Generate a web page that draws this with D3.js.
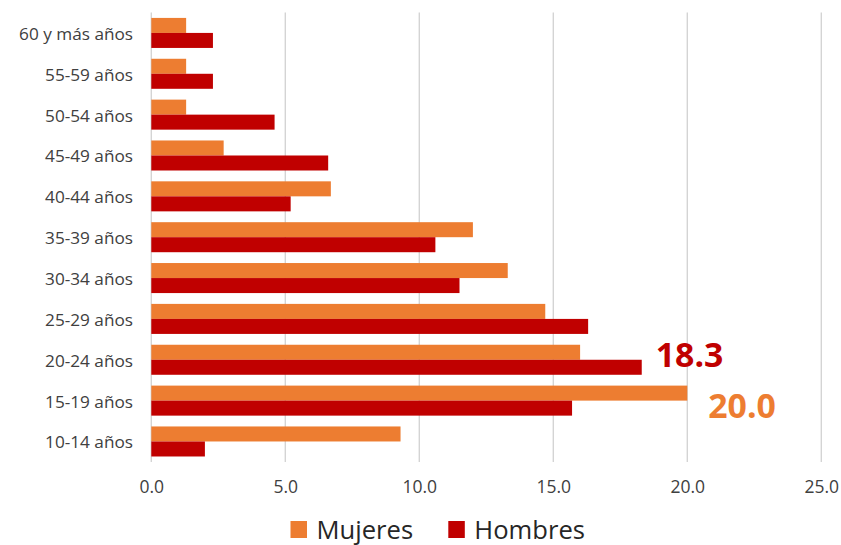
<!DOCTYPE html>
<html>
<head>
<meta charset="utf-8">
<script src="https://cdn.jsdelivr.net/npm/d3@7"></script>
<style>
  html, body { margin: 0; padding: 0; background: #fff; }
  svg { display: block; font-family: "Open Sans", "Noto Sans", sans-serif; }
</style>
</head>
<body>
<div id="chart"></div>
<script>
// Age groups, listed top to bottom
const categories = ["60 y más años", "55-59 años", "50-54 años", "45-49 años", "40-44 años",
  "35-39 años", "30-34 años", "25-29 años", "20-24 años", "15-19 años", "10-14 años"];
const series = ["Mujeres", "Hombres"];
const mujeres = [1.3, 1.3, 1.3, 2.7, 6.7, 12.0, 13.3, 14.7, 16.0, 20.0, 9.3];
const hombres = [2.3, 2.3, 4.6, 6.6, 5.2, 10.6, 11.5, 16.3, 18.3, 15.7, 2.0];
const xTicks = [0, 5, 10, 15, 20, 25];
// Highlighted values written beside their bars
const callouts = [
  { serie: "Hombres", cat: "20-24 años", value: 18.3 },
  { serie: "Mujeres", cat: "15-19 años", value: 20.0 }
];

const colors = { Mujeres: "#ED7D31", Hombres: "#C00000" };
const W = 841, H = 545;

const svg = d3.select("#chart").append("svg")
  .attr("width", W).attr("height", H);

const x = d3.scaleLinear().domain([0, 25]).range([151.3, 821.3]);
const y = d3.scaleBand().domain(categories).range([12.5, 461.9])
  .paddingInner(0.265).paddingOuter(0.1325);
const ySub = d3.scaleBand().domain(series).range([0, y.bandwidth()]);

const rows = categories.map((c, i) => ({ cat: c, Mujeres: mujeres[i], Hombres: hombres[i] }));

// Vertical gridlines
svg.append("g").selectAll("line").data(xTicks).join("line")
  .attr("x1", d => x(d)).attr("x2", d => x(d))
  .attr("y1", 12.5).attr("y2", 461.9)
  .attr("stroke", "#d4d4d4").attr("stroke-width", 1.4);

// Bars
const groups = svg.append("g").selectAll("g").data(rows).join("g")
  .attr("transform", d => `translate(0,${y(d.cat)})`);
groups.selectAll("rect").data(d => series.map(s => ({ s, v: d[s] }))).join("rect")
  .attr("x", x(0))
  .attr("y", d => ySub(d.s))
  .attr("width", d => x(d.v) - x(0))
  .attr("height", ySub.bandwidth())
  .attr("fill", d => colors[d.s]);

// Category labels
const yAxis = d3.axisLeft(y).tickSize(0).tickPadding(0);
const gy = svg.append("g").attr("transform", "translate(133,0)").call(yAxis);
gy.select(".domain").remove();
gy.selectAll("text")
  .attr("font-family", "Open Sans").attr("font-size", 17.2)
  .attr("fill", "#404040").attr("dy", "0.4em").attr("x", 0);

// Value axis labels
const xAxis = d3.axisBottom(x).tickValues(xTicks).tickFormat(d3.format(".1f")).tickSize(0).tickPadding(0);
const gx = svg.append("g").attr("transform", "translate(0,493.3)").call(xAxis);
gx.select(".domain").remove();
gx.selectAll("text")
  .attr("font-family", "Open Sans").attr("font-size", 17.5)
  .attr("fill", "#404040").attr("dy", 0).attr("y", 0);

// Callout values
svg.append("g").selectAll("text").data(callouts).join("text")
  .attr("x", d => x(d.value) + (d.serie === "Hombres" ? 14 : 21))
  .attr("y", d => d.serie === "Hombres" ? 367.3 : 418.3)
  .attr("font-family", "Open Sans").attr("font-weight", 700).attr("font-size", 33.8)
  .attr("fill", d => colors[d.serie])
  .text(d => d3.format(".1f")(d.value));

// Legend
const legendPos = [{ s: "Mujeres", x: 290.5 }, { s: "Hombres", x: 448.3 }];
const lg = svg.append("g").selectAll("g").data(legendPos).join("g")
  .attr("transform", d => `translate(${d.x},0)`);
lg.append("rect").attr("x", 0).attr("y", 521).attr("width", 16.5).attr("height", 17)
  .attr("fill", d => colors[d.s]);
lg.append("text").attr("x", 26).attr("y", 538.5)
  .attr("font-family", "Open Sans").attr("font-size", 25.6).attr("fill", "#262626")
  .text(d => d.s);
</script>
</body>
</html>
